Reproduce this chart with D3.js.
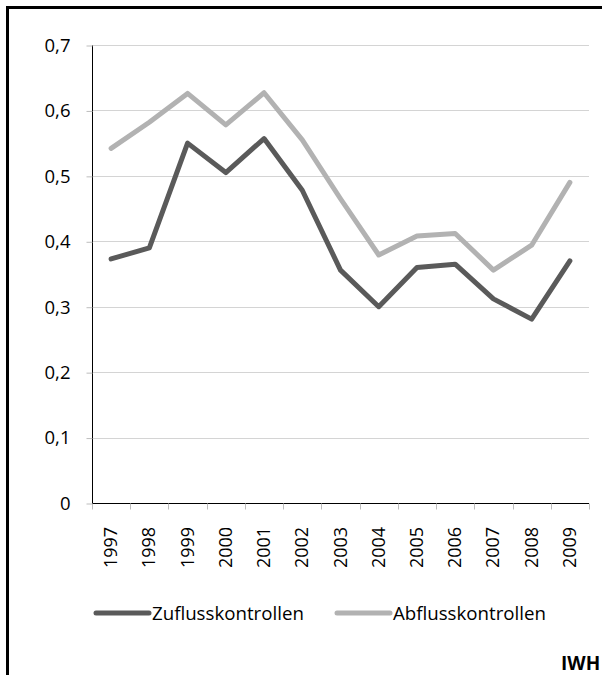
<!DOCTYPE html>
<html>
<head>
<meta charset="utf-8">
<script src="https://cdn.jsdelivr.net/npm/d3@7"></script>
<style>
  html, body { margin: 0; padding: 0; background: #fff; }
  svg { display: block; }
  text { font-family: "Open Sans", sans-serif; fill: #000; }
</style>
</head>
<body>
<svg id="chart" width="602" height="675"></svg>
<script>
const years = ["1997","1998","1999","2000","2001","2002","2003","2004","2005","2006","2007","2008","2009"];
const zufluss = [0.373, 0.390, 0.550, 0.505, 0.557, 0.478, 0.356, 0.300, 0.360, 0.365, 0.312, 0.281, 0.370];
const abfluss = [0.542, 0.582, 0.626, 0.578, 0.627, 0.555, 0.465, 0.379, 0.408, 0.412, 0.356, 0.394, 0.490];
const yTicks = [0, 0.1, 0.2, 0.3, 0.4, 0.5, 0.6, 0.7];
const seriesNames = ["Zuflusskontrollen", "Abflusskontrollen"];
const seriesColors = ["#5a5a5a", "#b2b2b2"];

const svg = d3.select("#chart");
const pLeft = 92, pRight = 589, pTop = 45, pBottom = 503;

// outer frame
svg.append("rect")
  .attr("x", 7.5).attr("y", 7.5)
  .attr("width", 620).attr("height", 700)
  .attr("fill", "none").attr("stroke", "#000").attr("stroke-width", 3);

const x = d3.scaleBand().domain(years).range([pLeft, pRight]).padding(0);
const y = d3.scaleLinear().domain([0, 0.7]).range([pBottom, pTop]);

// gridlines
svg.append("g").selectAll("line").data(yTicks.filter(d => d > 0)).join("line")
  .attr("x1", pLeft).attr("x2", pRight)
  .attr("y1", d => Math.round(y(d)) + 0.5).attr("y2", d => Math.round(y(d)) + 0.5)
  .attr("stroke", "#d4d4d4").attr("stroke-width", 1);

// y axis
const yAxis = svg.append("g")
  .attr("transform", `translate(${pLeft + 0.5},0.5)`)
  .call(d3.axisLeft(y).tickValues(yTicks).tickSize(6).tickPadding(16)
    .tickFormat(d => d === 0 ? "0" : d3.format(".1f")(d).replace(".", ",")));
yAxis.select(".domain").attr("stroke", "#000").attr("d", `M0,${pTop}V${pBottom}`);
yAxis.selectAll(".tick line").attr("stroke", "#bdbdbd");
yAxis.selectAll(".tick text")
  .attr("font-size", 18.5).attr("font-family", "Open Sans, sans-serif")
  .attr("fill", "#000");

// x axis
const xAxis = svg.append("g")
  .attr("transform", `translate(0,${pBottom + 0.5})`);
xAxis.append("line").attr("x1", pLeft).attr("x2", pRight).attr("stroke", "#000");
xAxis.selectAll("line.tk").data(years.concat(["__end"])).join("line")
  .attr("class", "tk")
  .attr("x1", (d, i) => Math.round(pLeft + i * x.bandwidth()) + 0.5)
  .attr("x2", (d, i) => Math.round(pLeft + i * x.bandwidth()) + 0.5)
  .attr("y1", 0).attr("y2", 6)
  .attr("stroke", "#bdbdbd");
xAxis.selectAll("text").data(years).join("text")
  .attr("transform", d => `translate(${x(d) + x.bandwidth() / 2 + 6},44) rotate(-90)`)
  .attr("text-anchor", "middle")
  .attr("font-size", 18)
  .text(d => d);

// lines
const line = d3.line().x((d, i) => x(years[i]) + x.bandwidth() / 2).y(d => y(d));
[zufluss, abfluss].forEach((s, k) => {
  svg.append("path").datum(s)
    .attr("d", line)
    .attr("fill", "none")
    .attr("stroke", seriesColors[k])
    .attr("stroke-width", 5)
    .attr("stroke-linejoin", "round")
    .attr("stroke-linecap", "round");
});

// legend
const legendX = [96, 337];
const lg = svg.append("g");
seriesNames.forEach((n, k) => {
  lg.append("line")
    .attr("x1", legendX[k]).attr("x2", legendX[k] + 53)
    .attr("y1", 613).attr("y2", 613)
    .attr("stroke", seriesColors[k]).attr("stroke-width", 5)
    .attr("stroke-linecap", "round");
  lg.append("text")
    .attr("x", legendX[k] + 56).attr("y", 620)
    .attr("font-size", 18.7)
    .text(n);
});

// source label
svg.append("text")
  .attr("x", 561).attr("y", 670)
  .attr("font-size", 19).attr("font-weight", "bold")
  .text("IWH");
</script>
</body>
</html>
